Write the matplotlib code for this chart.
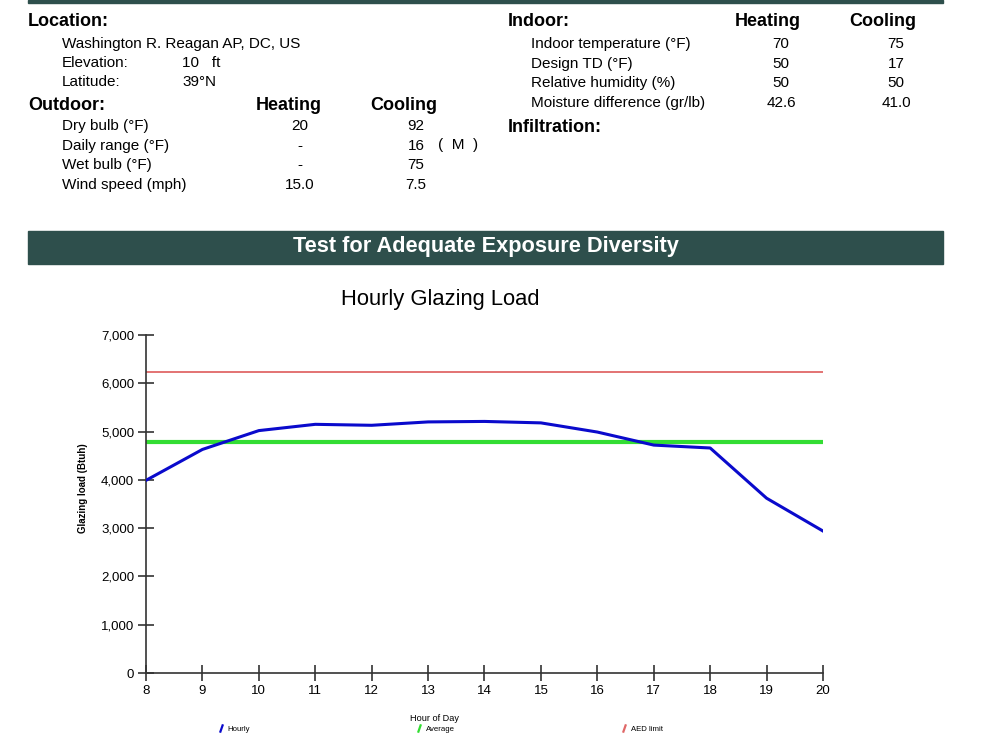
import matplotlib
matplotlib.use('Agg')
import matplotlib.pyplot as plt
from matplotlib.patches import Rectangle
from matplotlib.lines import Line2D
from matplotlib.path import Path
from matplotlib.ticker import FuncFormatter

plt.rcParams['font.family'] = ['Liberation Sans', 'DejaVu Sans']

# hourly glazing load data
hours = [8, 9, 10, 11, 12, 13, 14, 15, 16, 17, 18, 19, 20]
hourly_load = [3990, 4630, 5020, 5150, 5130, 5200, 5210, 5180, 4990, 4720, 4660, 3620, 2940]
average_load = 4790
aed_limit = 6230

legend_labels = ['Hourly', 'Average', 'AED limit']

# design conditions
outdoor_rows = ['Dry bulb (°F)', 'Daily range (°F)', 'Wet bulb (°F)', 'Wind speed (mph)']
outdoor_heating = ['20', '-', '-', '15.0']
outdoor_cooling = ['92', '16', '75', '7.5']
indoor_rows = ['Indoor temperature (°F)', 'Design TD (°F)', 'Relative humidity (%)',
               'Moisture difference (gr/lb)']
indoor_heating = ['70', '50', '50', '42.6']
indoor_cooling = ['75', '17', '50', '41.0']

W, H = 1000, 750
fig = plt.figure(figsize=(10, 7.5), dpi=100)
dark = '#2e4f4c'


def fx(x):
    return x / W


def fy(y):
    return 1 - y / H


def txt(x, y, s, ha='left', **kw):
    fig.text(fx(x), fy(y), s, ha=ha, va='center', **kw)


# top strip and section header bar
fig.patches.append(Rectangle((fx(28), fy(3)), fx(943) - fx(28), 3 / H,
                             transform=fig.transFigure, color=dark))
fig.patches.append(Rectangle((fx(28), fy(264)), fx(943) - fx(28), 33 / H,
                             transform=fig.transFigure, color=dark))
txt(486, 247, 'Test for Adequate Exposure Diversity', ha='center',
    color='white', fontsize=15.7, fontweight='bold')

# left block
bold = dict(fontsize=13, fontweight='bold')
norm = dict(fontsize=11)
txt(28, 22, 'Location:', **bold)
txt(62, 44, 'Washington R. Reagan AP, DC, US', **norm)
txt(62, 63, 'Elevation:', **norm)
txt(182, 63, '10   ft', **norm)
txt(62, 82, 'Latitude:', **norm)
txt(182, 82, '39°N', **norm)
txt(28, 105, 'Outdoor:', **bold)
txt(289, 105, 'Heating', ha='center', **bold)
txt(404, 105, 'Cooling', ha='center', **bold)
for i, (r, h, c) in enumerate(zip(outdoor_rows, outdoor_heating, outdoor_cooling)):
    y = 126 + i * 19.7
    txt(62, y, r, **norm)
    txt(300, y, h, ha='center', **norm)
    txt(416, y, c, ha='center', **norm)
txt(438, 145, '(  M  )', **norm)

# right block
txt(508, 22, 'Indoor:', **bold)
txt(768, 22, 'Heating', ha='center', **bold)
txt(883, 22, 'Cooling', ha='center', **bold)
for i, (r, h, c) in enumerate(zip(indoor_rows, indoor_heating, indoor_cooling)):
    y = 44 + i * 19.7
    txt(531, y, r, **norm)
    txt(781, y, h, ha='center', **norm)
    txt(896, y, c, ha='center', **norm)
txt(508, 127, 'Infiltration:', **bold)

# chart
ax = fig.add_axes([fx(146), fy(673), fx(823) - fx(146), (673 - 335) / H])
ax.plot(hours, hourly_load, color='#0a0acc', lw=2.2, zorder=3)
ax.axhline(average_load, color='#33dd33', lw=3, zorder=2)
ax.axhline(aed_limit, color='#e06868', lw=1.3, zorder=2)
ax.set_xlim(8, 20)
ax.set_ylim(0, 7000)
ax.set_xticks(hours)
ax.set_yticks(range(0, 7001, 1000))
ax.yaxis.set_major_formatter(FuncFormatter(lambda v, p: f'{int(v):,}'))
ax.spines['top'].set_visible(False)
ax.spines['right'].set_visible(False)
for s in ['left', 'bottom']:
    ax.spines[s].set_color('#333333')
    ax.spines[s].set_linewidth(1.2)
ax.tick_params(direction='inout', length=11, width=1.2, color='#333333',
               labelsize=9.5, pad=3)
txt(440, 300, 'Hourly Glazing Load', ha='center', fontsize=15.8)
ax.set_xlabel('Hour of Day', fontsize=6.6, labelpad=12)
ax.xaxis.set_label_coords((435 - 146) / 677, -0.122)
ax.set_ylabel('Glazing load (Btuh)', fontsize=7, fontweight='bold', labelpad=0)
ax.yaxis.set_label_coords((88 - 146) / 677, 0.547)

slash = Path([(-0.35, -1), (0.35, 1)], [Path.MOVETO, Path.LINETO])
handles = [Line2D([], [], color=c, marker=slash, markersize=6, mew=1.6, linestyle='none')
           for c in ['#0a0acc', '#33dd33', '#e06868']]
ax.legend(handles, legend_labels, ncol=3, loc='center', bbox_to_anchor=(0.434, -0.166),
          frameon=False, fontsize=5.6, columnspacing=21.2, handlelength=1, handletextpad=0.4)

fig.savefig('out.png', dpi=100)
